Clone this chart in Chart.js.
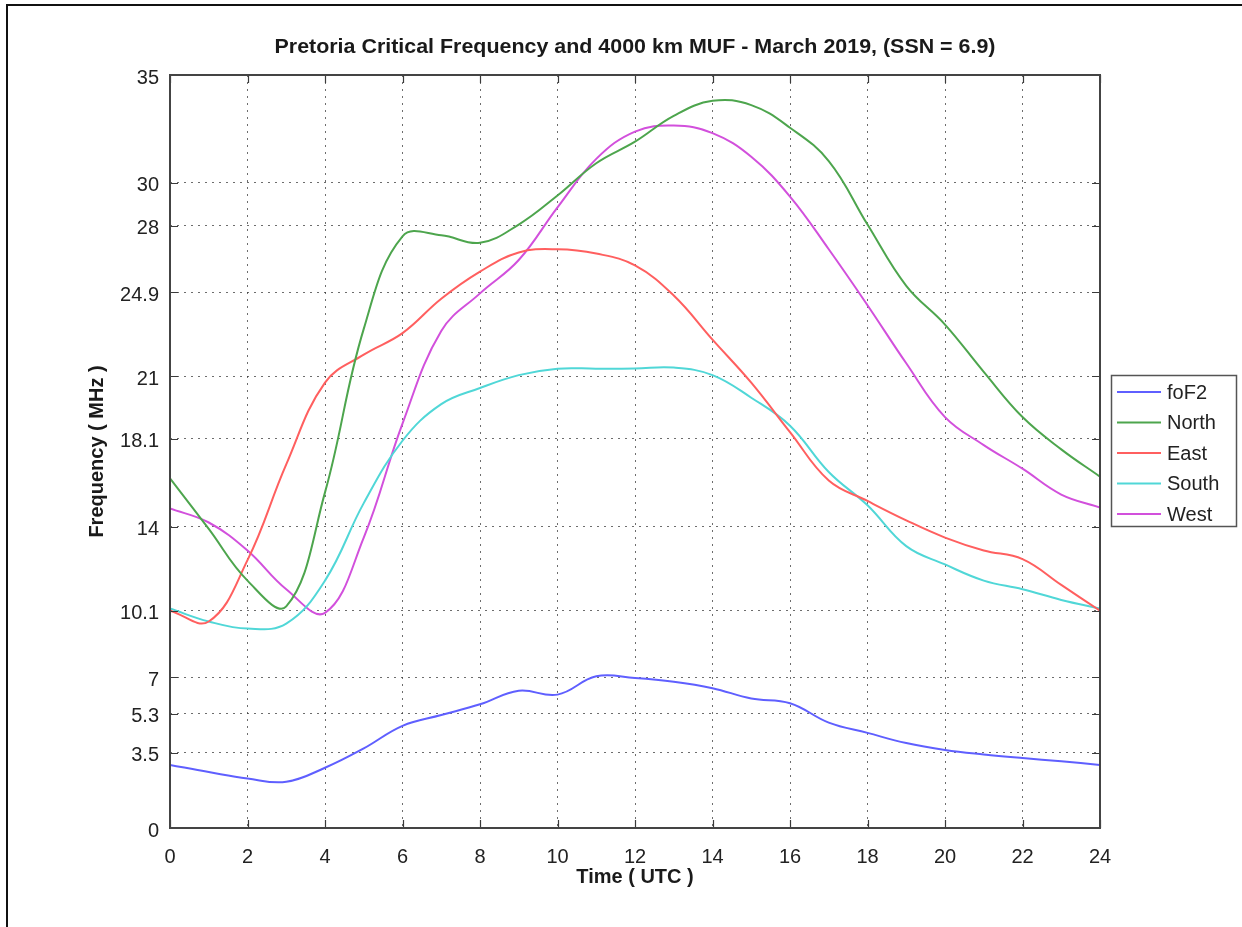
<!DOCTYPE html>
<html>
<head>
<meta charset="utf-8">
<script src="https://cdn.jsdelivr.net/npm/chart.js@4.4.1/dist/chart.umd.min.js"></script>
<style>
html,body{margin:0;padding:0;background:#fff;}
#wrap{position:relative;width:1242px;height:927px;overflow:hidden;background:#fff;}
#frame{position:absolute;left:6px;top:4px;width:1300px;height:1000px;border-top:2px solid #111;border-left:2px solid #111;pointer-events:none;}
canvas{position:absolute;left:0;top:0;}
</style>
</head>
<body>
<div id="wrap"><canvas id="c" width="1242" height="927"></canvas><div id="frame"></div></div>
<script>
// ---- data ----
const hours = [0,1,2,3,4,5,6,7,8,9,10,11,12,13,14,15,16,17,18,19,20,21,22,23,24];
const foF2  = [2.93,2.6,2.3,2.15,2.8,3.7,4.75,5.25,5.75,6.38,6.2,7.05,6.97,6.8,6.5,6.02,5.8,4.9,4.42,3.95,3.63,3.42,3.25,3.1,2.93];
const north = [16.25,13.9,11.5,10.3,15.6,23.2,27.5,27.55,27.2,28.05,29.4,30.9,31.9,33.1,33.8,33.6,32.55,31.0,28.05,25.2,23.4,21.2,19.1,17.6,16.33];
const east  = [10.1,9.6,12.45,16.9,20.7,22.0,23.0,24.6,25.86,26.75,26.9,26.7,26.15,24.75,22.7,20.7,18.4,16.15,15.2,14.3,13.5,12.9,12.5,11.3,10.1];
const south = [10.2,9.6,9.27,9.5,11.5,15.1,18.0,19.7,20.45,21.05,21.35,21.35,21.36,21.4,21.05,20.0,18.7,16.55,15.0,13.1,12.25,11.5,11.1,10.6,10.2];
const west  = [14.85,14.2,12.9,11.1,10.0,13.5,18.8,23.1,24.85,26.4,28.85,31.1,32.37,32.65,32.3,31.2,29.35,26.9,24.3,21.6,19.1,17.8,16.7,15.5,14.9];

const seriesNames  = ['foF2','North','East','South','West'];
const seriesColors = ['rgb(95,95,255)','rgb(77,165,77)','rgb(255,95,95)','rgb(80,215,215)','rgb(210,80,220)'];
const seriesData   = [foF2, north, east, south, west];

const yTickValues = [0,3.5,5.3,7,10.1,14,18.1,21,24.9,28,30,35];
const yTickLabels = ['0','3.5','5.3','7','10.1','14','18.1','21','24.9','28','30','35'];
const xTickValues = [0,2,4,6,8,10,12,14,16,18,20,22,24];

const titleText = 'Pretoria Critical Frequency and 4000 km MUF - March 2019, (SSN = 6.9)';
const xTitle = 'Time ( UTC )';
const yTitle = 'Frequency ( MHz )';

// ---- chart ----
const FONT = "'Liberation Sans', Arial, Helvetica, sans-serif";
const gridColor = 'rgba(60,60,60,0.75)';

const boxAndTicks = {
  id: 'boxAndTicks',
  afterDraw(chart) {
    const {ctx, chartArea: a, scales: {x, y}} = chart;
    ctx.save();
    ctx.strokeStyle = '#3a3a3a';
    ctx.lineWidth = 1.2;
    const L = 8;
    ctx.beginPath();
    yTickValues.forEach(v => {
      const py = Math.round(y.getPixelForValue(v)) + 0.5;
      ctx.moveTo(a.left, py); ctx.lineTo(a.left + L, py);
      ctx.moveTo(a.right, py); ctx.lineTo(a.right - L, py);
    });
    xTickValues.forEach(v => {
      const px = Math.round(x.getPixelForValue(v)) + 0.5;
      ctx.moveTo(px, a.bottom); ctx.lineTo(px, a.bottom - L);
      ctx.moveTo(px, a.top); ctx.lineTo(px, a.top + L);
    });
    ctx.stroke();
    ctx.lineWidth = 2;
    ctx.strokeStyle = '#444';
    ctx.strokeRect(a.left, a.top, a.right - a.left, a.bottom - a.top);
    ctx.restore();
  }
};

const plotTitle = {
  id: 'plotTitle',
  afterDraw(chart) {
    const {ctx, chartArea: a} = chart;
    ctx.save();
    ctx.font = 'bold 20px ' + FONT;
    ctx.fillStyle = '#1a1a1a';
    ctx.textAlign = 'center';
    ctx.textBaseline = 'middle';
    const w = ctx.measureText(titleText).width;
    const sx = 721 / w;
    ctx.translate((a.left + a.right) / 2, 47);
    ctx.scale(sx, 1);
    ctx.fillText(titleText, 0, 0);
    ctx.restore();
  }
};

const customLegend = {
  id: 'customLegend',
  afterDraw(chart) {
    const ctx = chart.ctx;
    const bx = 1111.5, by = 375.5, bw = 125, bh = 151;
    ctx.save();
    ctx.fillStyle = '#fff';
    ctx.fillRect(bx, by, bw, bh);
    ctx.strokeStyle = '#555';
    ctx.lineWidth = 1.5;
    ctx.strokeRect(bx, by, bw, bh);
    ctx.font = '20px ' + FONT;
    ctx.textBaseline = 'middle';
    ctx.textAlign = 'left';
    chart.data.datasets.forEach((ds, i) => {
      const cy = 392 + i * 30.5;
      ctx.strokeStyle = ds.borderColor;
      ctx.lineWidth = 2;
      ctx.beginPath();
      ctx.moveTo(1117, cy); ctx.lineTo(1161, cy);
      ctx.stroke();
      ctx.fillStyle = '#222';
      ctx.fillText(ds.label, 1167, cy + 1);
    });
    ctx.restore();
  }
};

new Chart(document.getElementById('c'), {
  type: 'line',
  data: {
    datasets: seriesData.map((arr, i) => ({
      label: seriesNames[i],
      data: hours.map((h, k) => ({x: h, y: arr[k]})),
      borderColor: seriesColors[i],
      backgroundColor: seriesColors[i],
      borderWidth: 2,
      pointRadius: 0,
      tension: 0.4,
      fill: false
    }))
  },
  options: {
    responsive: false,
    animation: false,
    devicePixelRatio: 1,
    layout: { padding: { left: 70, right: 142, top: 75, bottom: 29 } },
    plugins: {
      legend: { display: false },
      tooltip: { enabled: false },
      title: { display: false }
    },
    scales: {
      x: {
        type: 'linear',
        min: 0, max: 24,
        afterBuildTicks: s => { s.ticks = xTickValues.map(v => ({value: v})); },
        afterFit: s => { s.height = 70; },
        ticks: { autoSkip: false, maxRotation: 0, padding: 17, color: '#222', font: { family: FONT, size: 20 } },
        grid: { drawTicks: false, color: gridColor, lineWidth: 1 },
        border: { display: false, dash: [2, 5] },
        title: { display: true, text: xTitle, color: '#1a1a1a', font: { family: FONT, size: 20, weight: 'bold' }, padding: { top: 0, bottom: 9 } }
      },
      y: {
        type: 'linear',
        min: 0, max: 35,
        afterBuildTicks: s => { s.ticks = yTickValues.map(v => ({value: v})); },
        afterFit: s => { s.width = 100; },
        ticks: {
          autoSkip: false, padding: 11, labelOffset: 3, color: '#222', font: { family: FONT, size: 20 },
          callback: v => { const i = yTickValues.indexOf(v); return i >= 0 ? yTickLabels[i] : ''; }
        },
        grid: { drawTicks: false, color: gridColor, lineWidth: 1 },
        border: { display: false, dash: [2, 5] },
        title: { display: true, text: yTitle, color: '#1a1a1a', font: { family: FONT, size: 20, weight: 'bold' }, padding: { top: 15, bottom: 0 } }
      }
    }
  },
  plugins: [boxAndTicks, plotTitle, customLegend]
});
</script>
</body>
</html>
